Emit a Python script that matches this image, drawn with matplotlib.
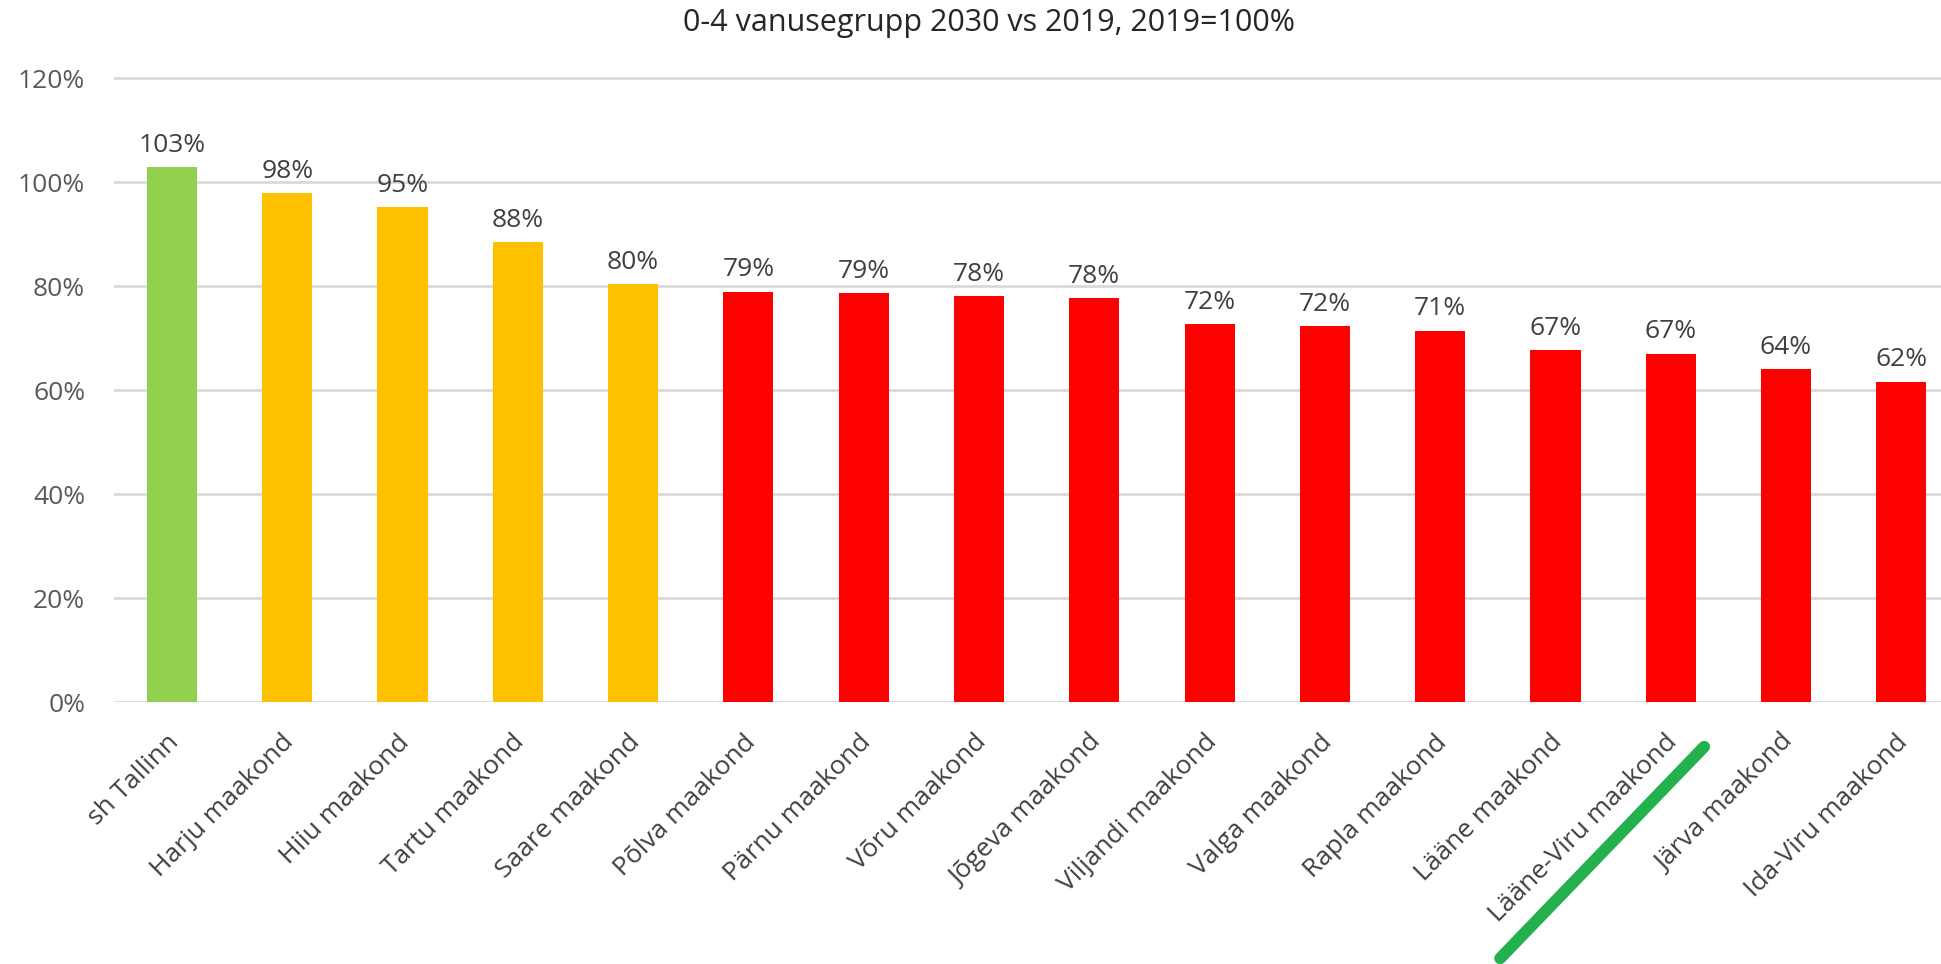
import matplotlib
matplotlib.use("Agg")
import matplotlib.pyplot as plt
from matplotlib.lines import Line2D
from matplotlib.transforms import ScaledTranslation

categories = ["sh Tallinn", "Harju maakond", "Hiiu maakond", "Tartu maakond", "Saare maakond",
              "Põlva maakond", "Pärnu maakond", "Võru maakond", "Jõgeva maakond", "Viljandi maakond",
              "Valga maakond", "Rapla maakond", "Lääne maakond", "Lääne-Viru maakond",
              "Järva maakond", "Ida-Viru maakond"]
values = [102.9, 97.9, 95.2, 88.4, 80.3, 78.9, 78.6, 78.1, 77.7, 72.6, 72.3, 71.4, 67.6, 67.0, 64.0, 61.6]
labels = ["103%", "98%", "95%", "88%", "80%", "79%", "79%", "78%", "78%", "72%", "72%", "71%",
          "67%", "67%", "64%", "62%"]
colors = ["#92D050"] + ["#FFC000"] * 4 + ["#FF0000"] * 11
yticks = [0, 20, 40, 60, 80, 100, 120]
ytick_labels = ["0%", "20%", "40%", "60%", "80%", "100%", "120%"]
title = "0-4 vanusegrupp 2030 vs 2019, 2019=100%"

plt.rcParams['font.family'] = ['Open Sans', 'DejaVu Sans']

W, H = 1941, 964
fig = plt.figure(figsize=(W / 100, H / 100), dpi=100)
ax_left, ax_right = 114.3, 1959.0
y0, ytop = 702.0, 67.6
ax = fig.add_axes([ax_left / W, 1 - y0 / H, (ax_right - ax_left) / W, (y0 - ytop) / H])

x = list(range(len(categories)))
bars = ax.bar(x, values, width=0.435, color=colors, zorder=3)
ax.set_xlim(-0.5, len(categories) - 0.5)
ax.set_ylim(0, 122)
ax.set_yticks(yticks)
ax.set_yticklabels(ytick_labels, fontsize=19, color="#595959")
ax.set_xticks(x)
ax.set_xticklabels(categories, rotation=45, ha="right", fontsize=19, color="#404040")
ax.tick_params(axis="y", length=0, pad=21)
ax.tick_params(axis="x", length=0, pad=20)
shift = ScaledTranslation(12 / 100, 0, fig.dpi_scale_trans)
for lab in ax.get_xticklabels():
    lab.set_transform(lab.get_transform() + shift)
for s in ax.spines.values():
    s.set_visible(False)
ax.grid(axis="y", color="#D9D9D9", linewidth=2, zorder=0)
ax.set_axisbelow(True)

for xi, v, lab in zip(x, values, labels):
    ax.annotate(lab, (xi, v), xytext=(0, 11), textcoords="offset points",
                ha="center", va="baseline", fontsize=19, color="#404040")

fig.text(989 / W, 1 - 23 / H, title, ha="center", va="center", fontsize=22, color="#262626")

# hand-drawn green underline annotation
ax.add_line(Line2D([11.52, 13.29], [-49.3, -8.6], color="#22B14C", linewidth=8.5,
                   solid_capstyle="round", clip_on=False, zorder=5))

fig.savefig("out.png", dpi=100)
